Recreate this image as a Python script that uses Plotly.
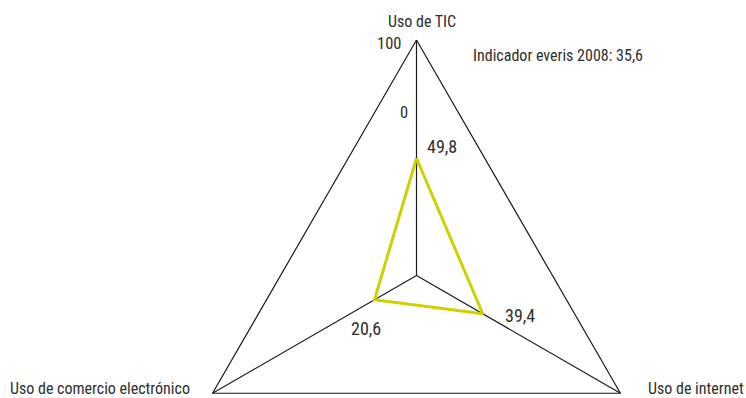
import numpy as np
import plotly.graph_objects as go

# ---- data ----
categories = ["Uso de TIC", "Uso de internet", "Uso de comercio electrónico"]
values = [49.8, 32.5, 20.6]            # plotted positions
value_labels = ["49,8", "39,4", "20,6"]  # printed labels
axis_max = 100
radial_labels = ["100", "0"]
title_text = "Indicador everis 2008: 35,6"

# ---- style ----
FONT = "Roboto Condensed, Roboto"
TXT = "#2e2e2e"
YELLOW = "#d0d000"
LINE = "#1a1a1a"

W, H = 746, 398
cx, cy = 416.5, 275.5        # centre of the radar in page pixels
S = 2.355                    # pixels per unit of value

n = len(categories)
ang = np.deg2rad(90 - 360 / n * np.arange(n))   # clockwise from the top


def to_xy(r):
    r = np.asarray(r, dtype=float)
    return r * np.cos(ang), r * np.sin(ang)


vx, vy = to_xy([axis_max] * n)
px, py = to_xy(values)

fig = go.Figure()

# spokes
sx, sy = [], []
for i in range(n):
    sx += [0, vx[i], None]
    sy += [0, vy[i], None]
fig.add_trace(go.Scatter(x=sx, y=sy, mode="lines",
                         line=dict(color=LINE, width=1.2),
                         hoverinfo="skip", showlegend=False))

# outer frame
fig.add_trace(go.Scatter(x=list(vx) + [vx[0]], y=list(vy) + [vy[0]], mode="lines",
                         line=dict(color=LINE, width=1.2),
                         hoverinfo="skip", showlegend=False))

# data polygon
fig.add_trace(go.Scatter(x=list(px) + [px[0]], y=list(py) + [py[0]], mode="lines",
                         line=dict(color=YELLOW, width=3),
                         hoverinfo="skip", showlegend=False))


def fnt(size):
    return dict(family=FONT, size=size, color=TXT)


def data_ann(text, x, y, anchor, dx, dy, size=16):
    return dict(text=text, x=x, y=y, xref="x", yref="y", xanchor=anchor,
                yanchor="middle", xshift=dx, yshift=dy, showarrow=False,
                font=fnt(size))


def paper_ann(text, x, y, anchor, size=16):
    return dict(text=text, x=x / W, y=1 - y / H, xref="paper",
                yref="paper", xanchor=anchor, yanchor="middle", showarrow=False,
                font=fnt(size))


annotations = [
    # category labels at the vertices
    data_ann(categories[0], vx[0], vy[0], "center", 5, 19),
    data_ann(categories[1], vx[1], vy[1], "left", 26, 5),
    data_ann(categories[2], vx[2], vy[2], "right", -21, 5),
    # value labels next to the data points
    data_ann(value_labels[0], px[0], py[0], "left", 8, 12, 18),
    data_ann(value_labels[1], px[1], py[1], "left", 20, -2, 18),
    data_ann(value_labels[2], px[2], py[2], "center", -8, -29, 18),
    # radial labels
    data_ann(radial_labels[0], vx[0], vy[0], "right", -14, -3, 16.5),
    paper_ann(radial_labels[1], 410, 112.5, "right", 16.5),
    # headline
    paper_ann(title_text, 471, 56, "left"),
]

fig.update_layout(
    width=W, height=H,
    margin=dict(l=0, r=0, t=0, b=0),
    paper_bgcolor="white", plot_bgcolor="white",
    font=fnt(16),
    xaxis=dict(visible=False, range=[-cx / S, (W - cx) / S], fixedrange=True),
    yaxis=dict(visible=False, range=[-(H - cy) / S, cy / S], fixedrange=True),
    annotations=annotations,
)

# remove the page's default body margin so the figure fills the window exactly
fig.write_html("out.html", config={"displayModeBar": False},
               post_script="document.body.style.margin='0px';")
